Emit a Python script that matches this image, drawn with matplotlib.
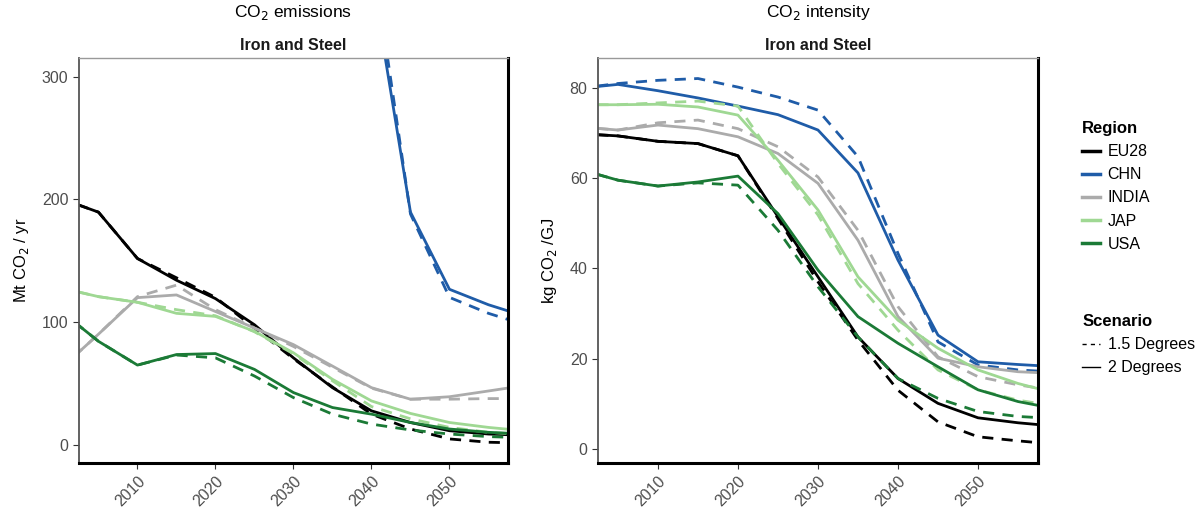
import numpy as np
import matplotlib.pyplot as plt
from matplotlib.lines import Line2D

plt.rcParams['font.family'] = ['Liberation Sans', 'DejaVu Sans']

# Data
years = [2000, 2005, 2010, 2015, 2020, 2025, 2030, 2035, 2040, 2045, 2050, 2055, 2060]
regions = ['EU28', 'CHN', 'INDIA', 'JAP', 'USA']
colors = {'EU28': '#000000', 'CHN': '#1f5ca8', 'INDIA': '#ababab',
          'JAP': '#9fd893', 'USA': '#1b7a36'}

# CO2 emissions, Mt CO2 / yr
emis_2deg = {
    'EU28': [201, 189.5, 151.7, 134, 119, 97.7, 70.7, 46.4, 27.5, 18, 11.3, 8.6, 7.5],
    'CHN': [1500, 1400, 1300, 1100, 950, 750, 600, 480, 384, 189.5, 126.6, 114, 104],
    'INDIA': [61, 90, 119.8, 122, 108.5, 95, 81.5, 64, 46.4, 37, 39, 43.7, 48.5],
    'JAP': [128, 120.6, 116, 107, 104.5, 92.3, 74.8, 53.2, 35.6, 25.4, 18, 14, 11],
    'USA': [109.7, 84.2, 64.8, 73.4, 74.2, 61.3, 42.4, 30.2, 24.8, 18, 12.7, 10, 8.5],
}
emis_15deg = {
    'EU28': [201, 189.5, 151.7, 136, 120, 95, 70, 47, 24.8, 12.7, 4.6, 1.9, 1.2],
    'CHN': [1500, 1400, 1300, 1100, 950, 760, 620, 500, 405, 188, 120, 107, 97],
    'INDIA': [61, 90, 120.6, 130, 110, 95, 80, 63, 46, 37, 37, 37.5, 37.5],
    'JAP': [128, 120.6, 116, 110, 105, 92, 74, 52, 31, 21, 14, 10, 8],
    'USA': [109.7, 84.2, 64.8, 73, 70.7, 55.9, 38.3, 24.8, 16.7, 11.9, 8.6, 6.5, 5.5],
}

# CO2 intensity, kg CO2 / GJ
int_2deg = {
    'EU28': [69.8, 69.3, 68.1, 67.6, 64.9, 51.4, 38.1, 24.8, 15.6, 10.1, 6.9, 5.8, 5.0],
    'CHN': [79.8, 80.7, 79.3, 77.7, 75.9, 74, 70.6, 61.1, 41.8, 25.2, 19.3, 18.7, 18.2],
    'INDIA': [71.3, 70.6, 71.7, 70.9, 69.1, 65.4, 58.8, 46.2, 29.3, 20.1, 18.2, 17.1, 16.7],
    'JAP': [76.2, 76.2, 76.3, 75.7, 73.9, 63.9, 52.9, 38.1, 28.5, 22.3, 17.5, 14.5, 12.2],
    'USA': [62, 59.5, 58.2, 59.1, 60.4, 52.1, 39.6, 29.3, 23.4, 18.2, 13.1, 10.5, 8.8],
}
int_15deg = {
    'EU28': [69.8, 69.3, 68.1, 67.6, 64.9, 51, 37, 24.1, 13, 6, 2.7, 1.8, 1.0],
    'CHN': [79.8, 80.9, 81.6, 82, 80.1, 77.9, 75, 64.7, 43.3, 23.7, 18.6, 17.5, 17.0],
    'INDIA': [71.3, 70.6, 72.2, 72.8, 70.9, 66.9, 60.2, 48.4, 31.5, 20.4, 16, 14.2, 12.8],
    'JAP': [76.2, 76.2, 76.6, 77, 75.9, 63.2, 51.8, 36.6, 26.3, 17.5, 13.1, 10.8, 9.4],
    'USA': [62, 59.5, 58.2, 58.9, 58.4, 48.4, 35.9, 24.8, 15.6, 11.2, 8.3, 7.2, 6.7],
}

tick_years = [2010, 2020, 2030, 2040, 2050]


def style_axes(ax, ylabel, yticks, ylim):
    ax.set_xlim(2002.5, 2057.5)
    ax.set_ylim(*ylim)
    ax.set_xticks(tick_years)
    ax.set_xticklabels([str(y) for y in tick_years], rotation=45, ha='right',
                       rotation_mode='anchor', color='#4d4d4d', fontsize=11.5)
    ax.set_yticks(yticks)
    ax.set_yticklabels([str(t) for t in yticks], color='#4d4d4d', fontsize=11.5)
    ax.tick_params(length=4, width=0.8, color='#333333')
    ax.set_ylabel(ylabel, fontsize=12, labelpad=8)
    ax.set_title('Iron and Steel', fontsize=11.5, fontweight='bold', pad=6,
                 color='#1a1a1a')
    ax.spines['left'].set_color('#555555')
    ax.spines['left'].set_linewidth(1.3)
    ax.spines['top'].set_color('#999999')
    ax.spines['top'].set_linewidth(1.0)
    ax.spines['bottom'].set_color('black')
    ax.spines['bottom'].set_linewidth(2.2)
    ax.spines['right'].set_color('black')
    ax.spines['right'].set_linewidth(2.2)


def draw(ax, solid, dashed):
    for r in regions:
        ax.plot(years, dashed[r], color=colors[r], lw=2, ls=(0, (4, 3)))
        ax.plot(years, solid[r], color=colors[r], lw=2)


fig = plt.figure(figsize=(12, 5.15), dpi=100)
ax1 = fig.add_axes([0.0658, 0.101, 0.3575, 0.786])
ax2 = fig.add_axes([0.4983, 0.101, 0.3667, 0.786])

draw(ax1, emis_2deg, emis_15deg)
style_axes(ax1, 'Mt CO$_2$ / yr', [0, 100, 200, 300], (-15, 315))
draw(ax2, int_2deg, int_15deg)
style_axes(ax2, 'kg CO$_2$ /GJ', [0, 20, 40, 60, 80], (-3.1, 86.5))

fig.text(0.2445, 0.975, 'CO$_2$ emissions', ha='center', va='center', fontsize=12.5)
fig.text(0.6817, 0.975, 'CO$_2$ intensity', ha='center', va='center', fontsize=12.5)

# Legends
region_handles = [Line2D([], [], color=colors[r], lw=2.5) for r in regions]
leg1 = fig.legend(region_handles, regions, title='Region', loc='upper left',
                  bbox_to_anchor=(0.9017, 0.765), frameon=False, fontsize=11.5,
                  handlelength=1.1, handletextpad=0.5, labelspacing=0.51,
                  borderaxespad=0, borderpad=0)
leg1.get_title().set_fontweight('bold')
leg1.get_title().set_fontsize(12)
leg1._legend_box.align = 'left'

scen_handles = [Line2D([], [], color='black', lw=1, ls=(0, (3, 3))),
                Line2D([], [], color='black', lw=1)]
leg2 = fig.legend(scen_handles, ['1.5 Degrees', '2 Degrees'], title='Scenario',
                  loc='upper left', bbox_to_anchor=(0.9017, 0.390), frameon=False,
                  fontsize=11.5, handlelength=1.1, handletextpad=0.5,
                  labelspacing=0.51, borderaxespad=0, borderpad=0)
leg2.get_title().set_fontweight('bold')
leg2.get_title().set_fontsize(12)
leg2._legend_box.align = 'left'

fig.savefig('out.png', dpi=100)
